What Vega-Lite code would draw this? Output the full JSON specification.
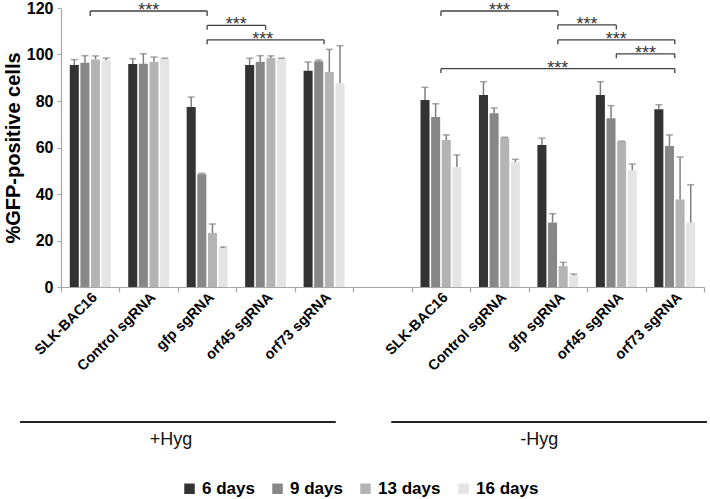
{
  "$schema": "https://vega.github.io/schema/vega-lite/v6.json",
  "width": 643,
  "height": 279,
  "padding": {"left": 3, "top": 0, "right": 2, "bottom": 4},
  "config": {
    "view": {"stroke": null},
    "font": "Liberation Sans",
    "axis": {"grid": false}
  },
  "datasets": {
    "bars": [
      {"cat": "+Hyg|SLK-BAC16", "day": "6 days", "v": 95.5, "hi": 97.8},
      {"cat": "+Hyg|SLK-BAC16", "day": "9 days", "v": 96.5, "hi": 99.5},
      {"cat": "+Hyg|SLK-BAC16", "day": "13 days", "v": 97.9, "hi": 99.4},
      {"cat": "+Hyg|SLK-BAC16", "day": "16 days", "v": 97.5, "hi": 98.4},
      {"cat": "+Hyg|Control sgRNA", "day": "6 days", "v": 95.9, "hi": 98.2},
      {"cat": "+Hyg|Control sgRNA", "day": "9 days", "v": 96.0, "hi": 100.3},
      {"cat": "+Hyg|Control sgRNA", "day": "13 days", "v": 96.9, "hi": 98.9},
      {"cat": "+Hyg|Control sgRNA", "day": "16 days", "v": 98.1, "hi": 98.4},
      {"cat": "+Hyg|gfp sgRNA", "day": "6 days", "v": 77.4, "hi": 81.7},
      {"cat": "+Hyg|gfp sgRNA", "day": "9 days", "v": 48.5, "hi": 48.9},
      {"cat": "+Hyg|gfp sgRNA", "day": "13 days", "v": 23.2, "hi": 27.1},
      {"cat": "+Hyg|gfp sgRNA", "day": "16 days", "v": 16.8, "hi": 17.2},
      {"cat": "+Hyg|orf45 sgRNA", "day": "6 days", "v": 95.5, "hi": 98.4},
      {"cat": "+Hyg|orf45 sgRNA", "day": "9 days", "v": 96.9, "hi": 99.5},
      {"cat": "+Hyg|orf45 sgRNA", "day": "13 days", "v": 98.5, "hi": 99.4},
      {"cat": "+Hyg|orf45 sgRNA", "day": "16 days", "v": 98.1, "hi": 98.4},
      {"cat": "+Hyg|orf73 sgRNA", "day": "6 days", "v": 93.0, "hi": 96.8},
      {"cat": "+Hyg|orf73 sgRNA", "day": "9 days", "v": 97.1, "hi": 97.6},
      {"cat": "+Hyg|orf73 sgRNA", "day": "13 days", "v": 92.5, "hi": 102.2},
      {"cat": "+Hyg|orf73 sgRNA", "day": "16 days", "v": 87.6, "hi": 103.8},
      {"cat": "-Hyg|SLK-BAC16", "day": "6 days", "v": 80.4, "hi": 85.9},
      {"cat": "-Hyg|SLK-BAC16", "day": "9 days", "v": 73.1, "hi": 78.8},
      {"cat": "-Hyg|SLK-BAC16", "day": "13 days", "v": 63.2, "hi": 65.4},
      {"cat": "-Hyg|SLK-BAC16", "day": "16 days", "v": 51.6, "hi": 56.8},
      {"cat": "-Hyg|Control sgRNA", "day": "6 days", "v": 82.6, "hi": 88.3},
      {"cat": "-Hyg|Control sgRNA", "day": "9 days", "v": 74.7, "hi": 77.0},
      {"cat": "-Hyg|Control sgRNA", "day": "13 days", "v": 64.2, "hi": 64.4},
      {"cat": "-Hyg|Control sgRNA", "day": "16 days", "v": 53.8, "hi": 54.9},
      {"cat": "-Hyg|gfp sgRNA", "day": "6 days", "v": 61.1, "hi": 64.0},
      {"cat": "-Hyg|gfp sgRNA", "day": "9 days", "v": 27.7, "hi": 31.5},
      {"cat": "-Hyg|gfp sgRNA", "day": "13 days", "v": 9.0, "hi": 10.6},
      {"cat": "-Hyg|gfp sgRNA", "day": "16 days", "v": 5.0, "hi": 5.6},
      {"cat": "-Hyg|orf45 sgRNA", "day": "6 days", "v": 82.6, "hi": 88.3},
      {"cat": "-Hyg|orf45 sgRNA", "day": "9 days", "v": 72.6, "hi": 78.0},
      {"cat": "-Hyg|orf45 sgRNA", "day": "13 days", "v": 62.5, "hi": 62.7},
      {"cat": "-Hyg|orf45 sgRNA", "day": "16 days", "v": 50.2, "hi": 52.9},
      {"cat": "-Hyg|orf73 sgRNA", "day": "6 days", "v": 76.4, "hi": 78.4},
      {"cat": "-Hyg|orf73 sgRNA", "day": "9 days", "v": 60.6, "hi": 65.4},
      {"cat": "-Hyg|orf73 sgRNA", "day": "13 days", "v": 37.6, "hi": 55.9},
      {"cat": "-Hyg|orf73 sgRNA", "day": "16 days", "v": 27.7, "hi": 44.0}
    ],
    "brackets": [
      {"from": "+Hyg|SLK-BAC16", "to": "+Hyg|gfp sgRNA", "lvl": 118.7, "tip": 116.6},
      {"from": "+Hyg|gfp sgRNA", "to": "+Hyg|orf45 sgRNA", "lvl": 112.5, "tip": 110.6},
      {"from": "+Hyg|gfp sgRNA", "to": "+Hyg|orf73 sgRNA", "lvl": 106.3, "tip": 104.4},
      {"from": "-Hyg|SLK-BAC16", "to": "-Hyg|gfp sgRNA", "lvl": 118.7, "tip": 116.6},
      {"from": "-Hyg|gfp sgRNA", "to": "-Hyg|orf45 sgRNA", "lvl": 112.7, "tip": 110.8},
      {"from": "-Hyg|gfp sgRNA", "to": "-Hyg|orf73 sgRNA", "lvl": 106.3, "tip": 104.4},
      {"from": "-Hyg|orf45 sgRNA", "to": "-Hyg|orf73 sgRNA", "lvl": 100.3, "tip": 98.4},
      {"from": "-Hyg|SLK-BAC16", "to": "-Hyg|orf73 sgRNA", "lvl": 93.9, "tip": 92.0}
    ],
    "stars": [
      {"xs": 1.5, "sy": 116.6, "s": "***"},
      {"xs": 3.0, "sy": 110.4, "s": "***"},
      {"xs": 3.45, "sy": 104.2, "s": "***"},
      {"xs": 7.5, "sy": 116.6, "s": "***"},
      {"xs": 9.0, "sy": 110.6, "s": "***"},
      {"xs": 9.5, "sy": 104.2, "s": "***"},
      {"xs": 10.0, "sy": 98.2, "s": "***"},
      {"xs": 8.5, "sy": 91.8, "s": "***"}
    ],
    "groups": [
      {"g": "+Hyg", "x1": -0.7, "x2": 4.7, "ly": -58.1, "xt": 1.88, "ty": -65.8},
      {"g": "-Hyg", "x1": 5.65, "x2": 11.05, "ly": -58.1, "xt": 8.18, "ty": -65.8}
    ]
  },
  "layer": [
    {
      "layer": [
        {
          "data": {"name": "bars"},
          "mark": {"type": "bar"},
          "encoding": {
            "x": {
              "field": "cat", "type": "nominal",
              "scale": {
                "domain": ["+Hyg|SLK-BAC16", "+Hyg|Control sgRNA", "+Hyg|gfp sgRNA", "+Hyg|orf45 sgRNA", "+Hyg|orf73 sgRNA", "gap| ", "-Hyg|SLK-BAC16", "-Hyg|Control sgRNA", "-Hyg|gfp sgRNA", "-Hyg|orf45 sgRNA", "-Hyg|orf73 sgRNA"],
                "paddingInner": 0.3, "paddingOuter": 0.15
              },
              "axis": {
                "title": null,
                "labelExpr": "split(datum.label, '|')[1]",
                "labelAngle": -45,
                "labelFontSize": 14.5,
                "labelFontWeight": "bold",
                "labelColor": "#000000",
                "labelPadding": 3,
                "ticks": false,
                "domainColor": "#a6a6a6",
                "domainWidth": 1.2
              }
            },
            "xOffset": {
              "field": "day", "type": "nominal",
              "scale": {"domain": ["6 days", "9 days", "13 days", "16 days"], "paddingInner": 0.15}
            },
            "y": {
              "field": "v", "type": "quantitative",
              "title": "%GFP-positive cells",
              "scale": {"domain": [0, 120], "nice": false},
              "axis": {
                "values": [0, 20, 40, 60, 80, 100, 120],
                "labelFontSize": 16,
                "labelFontWeight": "bold",
                "labelColor": "#000000",
                "labelPadding": 4,
                "titleFontSize": 20,
                "titleFontWeight": "bold",
                "titleColor": "#000000",
                "titlePadding": 3,
                "domainColor": "#a6a6a6",
                "domainWidth": 1.2,
                "tickColor": "#a6a6a6",
                "tickSize": 4
              }
            },
            "color": {
              "field": "day", "type": "nominal",
              "scale": {"domain": ["6 days", "9 days", "13 days", "16 days"], "range": ["#333333", "#878787", "#b4b4b4", "#e4e4e4"]},
              "legend": {
                "title": null,
                "orient": "none",
                "direction": "horizontal",
                "legendX": 120,
                "legendY": 472,
                "symbolType": "square",
                "symbolSize": 110,
                "symbolStrokeWidth": 0,
                "labelFontSize": 17,
                "labelFontWeight": "bold",
                "labelColor": "#000000",
                "labelOffset": 4,
                "columnPadding": 14
              }
            }
          }
        },
        {
          "data": {"name": "bars"},
          "mark": {"type": "rule", "color": "#7f7f7f", "strokeWidth": 1.5},
          "encoding": {
            "x": {"field": "cat", "type": "nominal"},
            "xOffset": {"field": "day", "type": "nominal"},
            "y": {"field": "v", "type": "quantitative", "title": "%GFP-positive cells"},
            "y2": {"field": "hi"}
          }
        },
        {
          "data": {"name": "bars"},
          "mark": {"type": "tick", "color": "#7f7f7f", "thickness": 1.5, "size": 7},
          "encoding": {
            "x": {"field": "cat", "type": "nominal"},
            "xOffset": {"field": "day", "type": "nominal"},
            "y": {"field": "hi", "type": "quantitative", "title": "%GFP-positive cells"}
          }
        },
        {
          "data": {"name": "brackets"},
          "mark": {"type": "rule", "color": "#404040", "strokeWidth": 1.3},
          "encoding": {
            "x": {"field": "from", "type": "nominal"},
            "x2": {"field": "to"},
            "y": {"field": "lvl", "type": "quantitative", "title": "%GFP-positive cells"}
          }
        },
        {
          "data": {"name": "brackets"},
          "mark": {"type": "rule", "color": "#404040", "strokeWidth": 1.3},
          "encoding": {
            "x": {"field": "from", "type": "nominal"},
            "y": {"field": "lvl", "type": "quantitative", "title": "%GFP-positive cells"},
            "y2": {"field": "tip"}
          }
        },
        {
          "data": {"name": "brackets"},
          "mark": {"type": "rule", "color": "#404040", "strokeWidth": 1.3},
          "encoding": {
            "x": {"field": "to", "type": "nominal"},
            "y": {"field": "lvl", "type": "quantitative", "title": "%GFP-positive cells"},
            "y2": {"field": "tip"}
          }
        }
      ]
    },
    {
      "layer": [
        {
          "data": {"name": "stars"},
          "mark": {"type": "text", "fontSize": 18, "baseline": "alphabetic", "align": "center", "color": "#333333"},
          "encoding": {
            "x": {
              "field": "xs", "type": "quantitative",
              "scale": {"domain": [0, 11], "nice": false, "zero": false},
              "axis": {
                "orient": "bottom",
                "values": [0, 1, 2, 3, 4, 5, 6, 7, 8, 9, 10, 11],
                "labels": false,
                "domain": false,
                "grid": false,
                "title": null,
                "tickSize": 5,
                "tickColor": "#a6a6a6",
                "tickWidth": 1.2
              }
            },
            "y": {"field": "sy", "type": "quantitative", "title": "%GFP-positive cells"},
            "text": {"field": "s"}
          }
        },
        {
          "data": {"name": "groups"},
          "mark": {"type": "rule", "color": "#222222", "strokeWidth": 2},
          "encoding": {
            "x": {"field": "x1", "type": "quantitative"},
            "x2": {"field": "x2"},
            "y": {"field": "ly", "type": "quantitative", "title": "%GFP-positive cells"}
          }
        },
        {
          "data": {"name": "groups"},
          "mark": {"type": "text", "fontSize": 18, "baseline": "middle", "align": "center", "color": "#111111"},
          "encoding": {
            "x": {"field": "xt", "type": "quantitative"},
            "y": {"field": "ty", "type": "quantitative", "title": "%GFP-positive cells"},
            "text": {"field": "g"}
          }
        }
      ]
    }
  ],
  "resolve": {"scale": {"x": "independent"}}
}
